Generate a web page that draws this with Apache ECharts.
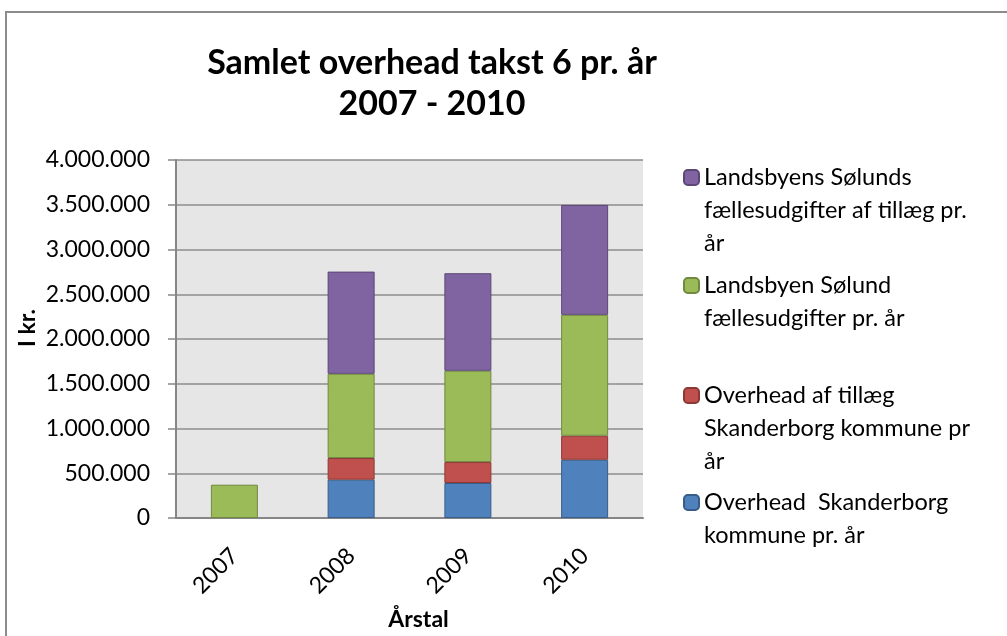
<!DOCTYPE html>
<html>
<head>
<meta charset="utf-8">
<script src="https://cdn.jsdelivr.net/npm/echarts@6/dist/echarts.min.js"></script>
<style>
  html, body { margin: 0; padding: 0; background: #fff; }
  #chart { width: 1007px; height: 636px; }
</style>
</head>
<body>
<div id="chart"></div>
<script>
// data
const years = ['2007', '2008', '2009', '2010']
const yTicks = [0, 500000, 1000000, 1500000, 2000000, 2500000, 3000000, 3500000, 4000000]

const overheadSkb = [0, 428000, 391000, 651000]
const overheadTillaeg = [0, 242000, 234000, 268000]
const soelundFaelles = [372000, 941000, 1020000, 1351000]
const soelundTillaeg = [0, 1142000, 1090000, 1228000]

const names = [
  'Overhead  Skanderborg\nkommune pr. år',
  'Overhead af tillæg\nSkanderborg kommune pr\når',
  'Landsbyen Sølund\nfællesudgifter pr. år',
  'Landsbyens Sølunds\nfællesudgifter af tillæg pr.\når'
]

const FONT = 'Lato'
const fmt = v => String(v).replace(/\B(?=(\d{3})+(?!\d))/g, '.')

const chart = echarts.init(document.getElementById('chart'))

function bar(name, data, color, border) {
  return {
    name: name,
    type: 'bar',
    stack: 'total',
    barWidth: 47,
    data: data.map(v => (v === 0 ? null : v)),
    itemStyle: { color: color, borderColor: border, borderWidth: 1 }
  }
}

// one legend per entry so each can sit where Excel put it.
// blank lines in front push the first text line level with the icon
function legendItem(name, iconY) {
  const lh = 33
  const lines = name.split('\n').length
  const total = lines * 2 - 1
  return {
    data: [name],
    left: 678,
    top: Math.round(iconY - 5 - total * lh / 2),
    orient: 'vertical',
    itemWidth: 15,
    itemHeight: 15,
    itemGap: 0,
    selectedMode: false,
    formatter: n => '\n'.repeat(lines - 1) + n,
    textStyle: {
      fontFamily: FONT,
      fontSize: 23.5,
      color: '#000',
      lineHeight: lh
    }
  }
}

const option = {
  animation: false,
  backgroundColor: '#fff',
  graphic: [{
    type: 'rect',
    shape: { x: 6, y: 12, width: 1010, height: 640 },
    style: { fill: 'none', stroke: '#8c8c8c', lineWidth: 2 },
    silent: true
  }],
  title: {
    text: 'Samlet overhead takst 6 pr. år\n2007 - 2010',
    left: 427,
    top: 38,
    textAlign: 'center',
    textStyle: { fontFamily: FONT, fontWeight: 'bold', fontSize: 34, lineHeight: 41, color: '#000' }
  },
  legend: [
    legendItem(names[3], 177),
    legendItem(names[2], 285),
    legendItem(names[1], 395),
    legendItem(names[0], 502)
  ],
  grid: {
    left: 176, top: 160, width: 467, height: 358,
    outerBoundsMode: 'none',
    show: true, backgroundColor: '#e6e6e6', borderWidth: 0
  },
  xAxis: {
    type: 'category',
    data: years,
    name: 'Årstal',
    nameLocation: 'middle',
    nameGap: 90,
    nameTextStyle: { fontFamily: FONT, fontWeight: 'bold', fontSize: 23, color: '#000', padding: [0, 0, 0, 18] },
    axisLine: { lineStyle: { color: '#868686', width: 2 } },
    axisTick: { length: 7, lineStyle: { color: '#868686', width: 1.5 } },
    axisLabel: { rotate: 45, margin: 34, fontFamily: FONT, fontSize: 23, color: '#000' }
  },
  yAxis: {
    type: 'value',
    min: yTicks[0],
    max: yTicks[yTicks.length - 1],
    interval: yTicks[1] - yTicks[0],
    name: 'I kr.',
    nameLocation: 'middle',
    nameGap: 137,
    nameTextStyle: { fontFamily: FONT, fontWeight: 'bold', fontSize: 23, color: '#000', padding: [0, 0, 0, 22] },
    axisLine: { show: true, lineStyle: { color: '#868686', width: 2 } },
    axisTick: { show: true, length: 8, lineStyle: { color: '#868686', width: 1.5 } },
    axisLabel: { margin: 26, fontFamily: FONT, fontSize: 23, color: '#000', formatter: fmt },
    splitLine: { lineStyle: { color: '#8c8c8c', width: 1.5 } }
  },
  series: [
    bar(names[0], overheadSkb, '#4f81bd', '#385d8a'),
    bar(names[1], overheadTillaeg, '#c0504d', '#8c3836'),
    bar(names[2], soelundFaelles, '#9bbb59', '#71893f'),
    bar(names[3], soelundTillaeg, '#8064a2', '#5c4776')
  ]
}

chart.setOption(option)
</script>
</body>
</html>
